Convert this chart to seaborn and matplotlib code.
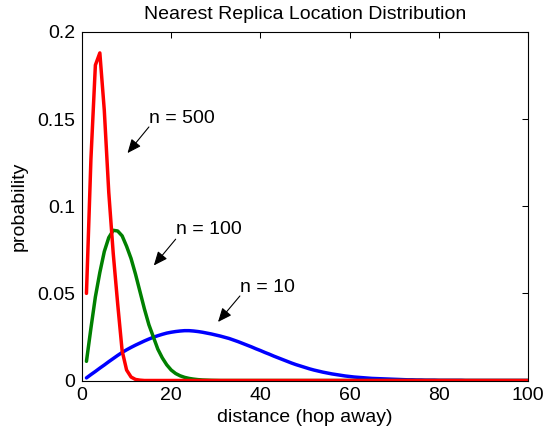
import numpy as np
import pandas as pd
import matplotlib
matplotlib.use("Agg")
import matplotlib.pyplot as plt
import seaborn as sns

# Hop distance to the nearest replica (1..100 hops)
hops = list(range(1, 101))

# Probability of the nearest replica being at each hop distance
prob_n10 = [0.0015, 0.0034, 0.0052, 0.0071, 0.0089, 0.0108, 0.0126, 0.0144, 0.0161, 0.0176,
            0.0190, 0.0203, 0.0215, 0.0227, 0.0238, 0.0248, 0.0257, 0.0265, 0.0272, 0.0277,
            0.0281, 0.0284, 0.0286, 0.0286, 0.0284, 0.0281, 0.0277, 0.0272, 0.0267, 0.0261,
            0.0255, 0.0248, 0.0241, 0.0232, 0.0223, 0.0213, 0.0203, 0.0193, 0.0182, 0.0172,
            0.0161, 0.0151, 0.0140, 0.0130, 0.0120, 0.0110, 0.0100, 0.0091, 0.0083, 0.0075,
            0.0067, 0.0060, 0.0054, 0.0048, 0.0043, 0.0038, 0.0034, 0.0030, 0.0026, 0.0023,
            0.0020, 0.0018, 0.0016, 0.0014, 0.0012, 0.0011, 0.0010, 0.0009, 0.0008, 0.0007,
            0.0006, 0.0005, 0.0004, 0.0004, 0.0003, 0.0003, 0.0002, 0.0002, 0.0002, 0.0001,
            0.0001, 0.0001, 0.0001, 0.0001, 0.0001] + [0.0] * 15

prob_n100 = [0.011, 0.030, 0.048, 0.062, 0.074, 0.082, 0.0862, 0.0858, 0.083, 0.077,
             0.070, 0.061, 0.051, 0.041, 0.032, 0.025, 0.018, 0.013, 0.009, 0.006,
             0.004, 0.0027, 0.0018, 0.0012, 0.0008, 0.0005, 0.0003, 0.0002, 0.0001, 0.00005] + [0.0] * 70

prob_n500 = [0.050, 0.127, 0.181, 0.188, 0.155, 0.108, 0.073, 0.044, 0.017, 0.006,
             0.002, 0.0006, 0.0002] + [0.0] * 87

series_labels = ["n = 10", "n = 100", "n = 500"]
series_colors = ["#0000ff", "#008000", "#ff0000"]

df = pd.concat([
    pd.DataFrame({"hop": hops, "prob": vals, "n": lab})
    for vals, lab in zip([prob_n10, prob_n100, prob_n500], series_labels)
], ignore_index=True)

sns.set_theme(style="white")
plt.rcParams["font.family"] = ["Liberation Sans", "DejaVu Sans"]

W, H = 546, 440
fig = plt.figure(figsize=(W / 100, H / 100), dpi=100)
ax = fig.add_axes([82 / W, 1 - 380.5 / H, (528 - 82) / W, (380.5 - 32) / H])

sns.lineplot(data=df, x="hop", y="prob", hue="n", hue_order=series_labels,
             palette=dict(zip(series_labels, series_colors)), linewidth=2.5,
             estimator=None, legend=False, ax=ax)

ax.set_xlim(0, 100)
ax.set_ylim(0, 0.2)
ax.set_xticks([0, 20, 40, 60, 80, 100])
ax.set_yticks([0, 0.05, 0.1, 0.15, 0.2])
ax.set_yticklabels(["0", "0.05", "0.1", "0.15", "0.2"])
ax.tick_params(direction="in", length=4.5, width=0.75, top=True, right=True,
               labelsize=14, colors="black", pad=5)
for s in ax.spines.values():
    s.set_visible(True)
    s.set_color("black")
    s.set_linewidth(0.8)
ax.grid(False)

ax.set_title("Nearest Replica Location Distribution", fontsize=14, pad=9, color="black")
ax.set_xlabel("distance (hop away)", fontsize=14, labelpad=3, color="black")
ax.set_ylabel("probability", fontsize=14, labelpad=7, color="black")

# Arrow callouts naming each curve
callouts = [
    ("n = 500", (15.0, 0.148), (15.0, 0.1455), (10.2, 0.1305)),
    ("n = 100", (21.0, 0.0838), (21.0, 0.0811), (16.1, 0.066)),
    ("n = 10", (35.4, 0.051), (35.4, 0.0485), (30.5, 0.0336)),
]
for text, txy, tail, head in callouts:
    ax.annotate("", xy=head, xytext=tail,
                arrowprops=dict(arrowstyle="-|>,head_length=0.7,head_width=0.3",
                                color="black", lw=0.8, shrinkA=0, shrinkB=0))
    ax.text(txy[0], txy[1], text, fontsize=14, ha="left", va="baseline", color="black")

fig.savefig("out.png", dpi=100)
